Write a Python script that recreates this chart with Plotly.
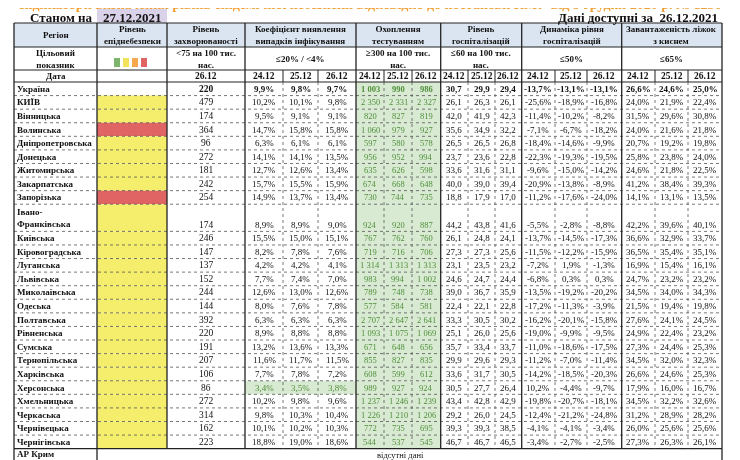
import plotly.graph_objects as go

# ---- data ----
regions = ["Україна", "КИЇВ", "Вінницька", "Волинська", "Дніпропетровська", "Донецька",
           "Житомирська", "Закарпатська", "Запорізька", "Івано-<br>Франківська", "Київська",
           "Кіровоградська", "Луганська", "Львівська", "Миколаївська", "Одеська", "Полтавська",
           "Рівненська", "Сумська", "Тернопільська", "Харківська", "Херсонська", "Хмельницька",
           "Черкаська", "Чернівецька", "Чернігівська"]
danger_level = ["", "yellow", "yellow", "red", "yellow", "yellow", "yellow", "yellow", "red",
                "yellow", "yellow", "yellow", "yellow", "yellow", "yellow", "yellow", "yellow",
                "yellow", "yellow", "yellow", "yellow", "yellow", "yellow", "yellow", "yellow",
                "yellow"]
incidence = ["220", "479", "174", "364", "96", "272", "181", "242", "254", "174", "246", "147",
             "137", "152", "244", "144", "392", "220", "191", "207", "106", "86", "272", "314",
             "162", "223"]
coef_24 = ["9,9%", "10,2%", "9,5%", "14,7%", "6,3%", "14,1%", "12,7%", "15,7%", "14,9%", "8,9%",
           "15,5%", "8,2%", "4,2%", "7,7%", "12,6%", "8,0%", "6,3%", "8,9%", "13,2%", "11,6%",
           "7,7%", "3,4%", "10,2%", "9,8%", "10,1%", "18,8%"]
coef_25 = ["9,8%", "10,1%", "9,1%", "15,8%", "6,1%", "14,1%", "12,6%", "15,5%", "13,7%", "8,9%",
           "15,0%", "7,8%", "4,2%", "7,4%", "13,0%", "7,6%", "6,3%", "8,8%", "13,6%", "11,7%",
           "7,8%", "3,5%", "9,8%", "10,3%", "10,2%", "19,0%"]
coef_26 = ["9,7%", "9,8%", "9,1%", "15,8%", "6,1%", "13,5%", "13,4%", "15,9%", "13,4%", "9,0%",
           "15,1%", "7,6%", "4,1%", "7,0%", "12,6%", "7,8%", "6,3%", "8,8%", "13,3%", "11,5%",
           "7,2%", "3,8%", "9,6%", "10,4%", "10,3%", "18,6%"]
test_24 = ["1 003", "2 350", "820", "1 060", "597", "956", "635", "674", "730", "924", "767",
           "719", "1 314", "983", "789", "577", "2 707", "1 093", "671", "855", "608", "989",
           "1 237", "1 226", "772", "544"]
test_25 = ["990", "2 331", "827", "979", "580", "952", "626", "668", "744", "920", "762", "716",
           "1 313", "994", "748", "584", "2 647", "1 075", "648", "827", "599", "927", "1 246",
           "1 210", "735", "537"]
test_26 = ["986", "2 327", "819", "927", "578", "994", "598", "648", "735", "887", "760", "706",
           "1 313", "1 002", "738", "581", "2 641", "1 069", "656", "835", "612", "924", "1 239",
           "1 206", "695", "545"]
hosp_24 = ["30,7", "26,1", "42,0", "35,6", "26,5", "23,7", "33,6", "40,0", "18,8", "44,2", "26,1",
           "27,3", "23,1", "24,6", "39,0", "22,4", "33,3", "25,1", "35,7", "29,9", "33,6", "30,5",
           "43,4", "29,2", "39,3", "46,7"]
hosp_25 = ["29,9", "26,3", "41,9", "34,9", "26,5", "23,6", "31,6", "39,0", "17,9", "43,8", "24,8",
           "27,3", "23,5", "24,7", "36,7", "22,1", "30,5", "26,0", "33,4", "29,6", "31,7", "27,7",
           "42,8", "26,0", "39,3", "46,7"]
hosp_26 = ["29,4", "26,1", "42,3", "32,2", "26,8", "22,8", "31,1", "39,4", "17,0", "41,6", "24,1",
           "25,6", "23,2", "24,4", "35,9", "22,8", "30,2", "25,6", "33,7", "29,3", "30,5", "26,4",
           "42,9", "24,5", "38,5", "46,5"]
dyn_24 = ["-13,7%", "-25,6%", "-11,4%", "-7,1%", "-18,4%", "-22,3%", "-9,6%", "-20,9%", "-11,2%",
          "-5,5%", "-13,7%", "-11,5%", "-7,2%", "-6,8%", "-13,5%", "-17,2%", "-16,2%", "-19,0%",
          "-11,0%", "-11,2%", "-14,2%", "10,2%", "-19,8%", "-12,4%", "-4,1%", "-3,4%"]
dyn_25 = ["-13,1%", "-18,9%", "-10,2%", "-6,7%", "-14,6%", "-19,3%", "-15,0%", "-13,8%", "-17,6%",
          "-2,8%", "-14,5%", "-12,2%", "1,9%", "0,3%", "-19,2%", "-11,3%", "-20,1%", "-9,9%",
          "-18,6%", "-7,0%", "-18,5%", "-4,4%", "-20,7%", "-21,2%", "-4,1%", "-2,7%"]
dyn_26 = ["-13,1%", "-16,8%", "-8,2%", "-18,2%", "-9,9%", "-19,5%", "-14,2%", "-8,9%", "-24,0%",
          "-8,8%", "-17,3%", "-15,9%", "-1,3%", "0,3%", "-20,2%", "-3,9%", "-15,8%", "-9,5%",
          "-17,5%", "-11,4%", "-20,3%", "-9,7%", "-18,1%", "-24,8%", "-3,4%", "-2,5%"]
beds_24 = ["26,6%", "24,0%", "31,5%", "24,0%", "20,7%", "25,8%", "24,6%", "41,2%", "14,1%",
           "42,2%", "36,6%", "36,5%", "16,9%", "24,7%", "34,5%", "21,5%", "27,6%", "24,9%",
           "27,3%", "34,5%", "26,6%", "17,9%", "34,5%", "31,2%", "26,0%", "27,3%"]
beds_25 = ["24,6%", "21,9%", "29,6%", "21,6%", "19,2%", "23,8%", "21,8%", "38,4%", "13,1%",
           "39,6%", "32,9%", "35,4%", "15,4%", "23,2%", "34,0%", "19,4%", "24,1%", "22,4%",
           "24,4%", "32,0%", "24,6%", "16,0%", "32,2%", "28,9%", "25,6%", "26,3%"]
beds_26 = ["25,0%", "22,4%", "30,8%", "21,8%", "19,8%", "24,0%", "22,5%", "39,3%", "13,5%",
           "40,1%", "33,7%", "35,1%", "16,1%", "23,2%", "34,3%", "19,8%", "24,5%", "23,2%",
           "25,3%", "32,3%", "25,3%", "16,7%", "32,6%", "28,2%", "25,6%", "26,1%"]
green_coef_rows = ["Херсонська"]

group_titles = ["Регіон", "Рівень<br>епіднебезпеки", "Рівень<br>захворюваності",
                "Коефіцієнт виявлення<br>випадків інфікування", "Охоплення<br>тестуванням",
                "Рівень<br>госпіталізацій", "Динаміка рівня<br>госпіталізацій",
                "Завантаженість ліжок<br>з киснем"]
group_targets = ["Цільовий<br>показник", "", "<75 на 100 тис.<br>нас.", "≤20% / <4%",
                 "≥300 на 100 тис.<br>нас.", "≤60 на 100 тис.<br>нас.", "≤50%", "≤65%"]
dates3 = ["24.12", "25.12", "26.12"]

# ---- geometry ----
col_x = [14, 97, 167, 245, 283, 318, 356, 384, 412, 440.7, 468, 495, 521.7, 555, 587, 621.7,
         655, 688, 722]
group_cols = [(0, 1), (1, 2), (2, 3), (3, 6), (6, 9), (9, 12), (12, 15), (15, 18)]
hdr_y = [23, 47, 70, 82]
unit = 13.58
row_top = [hdr_y[3]]
for r in regions:
    row_top.append(row_top[-1] + unit * (2 if "<br>" in r else 1))

FONT = "Liberation Serif"
BLUE = "#dbe5f1"
GREEN = "#d9ead3"
GREEN_TXT = "#4f8f3a"
level_colors = {"yellow": "#f4ee6c", "red": "#e06464"}

fig = go.Figure(go.Scatter(x=[10, 740], y=[10, 460], mode="markers", opacity=0,
                           hoverinfo="skip", showlegend=False))
shapes, ann = [], []


def rect(x0, x1, y0, y1, fill):
    shapes.append(dict(type="rect", x0=x0, x1=x1, y0=y0, y1=y1, fillcolor=fill,
                       line=dict(width=0), layer="below"))


def line(x0, y0, x1, y1, w=1, dash="solid", color="#222"):
    shapes.append(dict(type="line", x0=x0, y0=y0, x1=x1, y1=y1,
                       line=dict(width=w, dash=dash, color=color)))


def text(x, y, s, size=10, bold=False, color="#111", anchor="center", yanchor="middle"):
    if bold:
        s = "<b>" + s.replace("<br>", "</b><br><b>") + "</b>"
    ann.append(dict(x=x, y=y, text=s, showarrow=False, xanchor=anchor, yanchor=yanchor,
                    align="left" if anchor == "left" else "center",
                    font=dict(family=FONT, size=size, color=color)))


# title / top line (cut by the top edge, as in the source)
text(370, 14.5, "Індикатори визначення рівнів епідемічної небезпеки відповідно до постанови "
     "КМУ від 9 грудня 2020 р. № 1236", 14, True, "#f1a035", yanchor="bottom")
text(95, 17, "Станом на", 13, True, anchor="right")
rect(97, 167, 9, 23, "#d9d2e9")
text(132, 17, "27.12.2021", 13, True)
text(720, 17, "Дані доступні за  26.12.2021", 13, True, anchor="right")

# header
rect(col_x[0], col_x[-1], hdr_y[0], hdr_y[1], BLUE)
for g, (a, b) in enumerate(group_cols):
    xm = (col_x[a] + col_x[b]) / 2
    text(xm, (hdr_y[0] + hdr_y[1]) / 2, group_titles[g], 9, True)
    text(xm, (hdr_y[1] + hdr_y[2]) / 2, group_targets[g], 9, True)
    if b - a == 3:
        for k in range(3):
            text((col_x[a + k] + col_x[a + k + 1]) / 2, (hdr_y[2] + hdr_y[3]) / 2, dates3[k],
                 9.5, True)
text(55.5, (hdr_y[2] + hdr_y[3]) / 2, "Дата", 9, True)
text(206, (hdr_y[2] + hdr_y[3]) / 2, "26.12", 9.5, True)
for k, c in enumerate(["#7cb56b", "#f1e45c", "#f6a84e", "#e06464"]):
    rect(114 + k * 9, 120 + k * 9, 58, 67, c)

# body
cols = [coef_24, coef_25, coef_26, test_24, test_25, test_26, hosp_24, hosp_25, hosp_26,
        dyn_24, dyn_25, dyn_26, beds_24, beds_25, beds_26]
rect(col_x[6], col_x[9], row_top[0], row_top[-1], GREEN)
for i, reg in enumerate(regions):
    y0, y1 = row_top[i], row_top[i + 1]
    ym = (y0 + y1) / 2
    yv = y1 - unit / 2
    bold_row = i == 0
    if danger_level[i]:
        rect(col_x[1], col_x[2], y0, y1, level_colors[danger_level[i]])
    if reg in green_coef_rows:
        rect(col_x[3], col_x[6], y0, y1, GREEN)
    text(15, ym, reg, 9, True, anchor="left")
    text((col_x[2] + col_x[3]) / 2, yv, incidence[i], 9.5, bold_row)
    for j, vals in enumerate(cols):
        c = 3 + j
        color = GREEN_TXT if 6 <= c < 9 else "#111"
        if reg in green_coef_rows and c < 6:
            color = GREEN_TXT
        size = 8.5 if 6 <= c < 9 else 9
        text((col_x[c] + col_x[c + 1]) / 2, yv, vals[i], size, bold_row, color)
    if i < len(regions) - 1:
        line(col_x[0], y1, col_x[-1], y1, 0.8, "dot", "#555")

# Crimea row
text(15, 454, "АР Крим", 9, True, anchor="left")
text(400, 455, "відсутні дані", 8.5)

# grid lines
bottom = row_top[-1]
for y in hdr_y:
    line(col_x[0], y, col_x[-1], y, 1)
line(col_x[0], bottom, col_x[-1], bottom, 1.2)
solid = {col_x[a] for a, b in group_cols} | {col_x[-1]}
for k, x in enumerate(col_x):
    if x in solid:
        line(x, hdr_y[0], x, bottom, 1.3)
    else:
        line(x, hdr_y[2], x, hdr_y[3], 1)
        line(x, hdr_y[3], x, bottom, 0.8, "dot", "#555")
for x in (col_x[0], col_x[1], col_x[-1]):
    line(x, bottom, x, 470, 1.3)

fig.update_layout(width=740, height=460, margin=dict(l=0, r=0, t=0, b=0),
                  plot_bgcolor="white", paper_bgcolor="white", shapes=shapes, annotations=ann,
                  xaxis=dict(range=[8, 748], visible=False, fixedrange=True),
                  yaxis=dict(range=[468, 8], visible=False, fixedrange=True))
fig.write_html("out.html")
